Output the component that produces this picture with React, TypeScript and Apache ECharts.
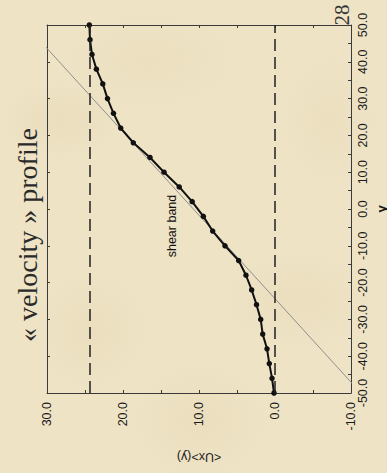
import React, { useEffect, useRef } from "react";
import * as echarts from "echarts";

// profile sample positions (y) and mean velocity <Ux>(y)
const yPositions = [50, 46, 42, 38, 34, 30, 26, 22, 18, 14, 10, 6, 2, -2, -6, -10, -14, -18, -22, -26, -30, -34, -38, -42, -46, -50];
const uxValues = [24.43, 24.34, 24.08, 23.5, 22.66, 22.04, 21.25, 20.3, 18.64, 16.45, 14.6, 12.6, 10.9, 9.43, 8.2, 6.58, 4.78, 3.82, 3.07, 2.43, 1.88, 1.62, 1.05, 0.75, 0.39, 0.13];
// linear reference profile
const refLineY = [-50, 50];
const refLineUx = [-11.3, 32.8];
// wall velocities (dashed)
const dashedUx = [0, 24.4];

const uxRange = [-10, 30];
const yRange = [-50, 50];

export default function App() {
  const ref = useRef<HTMLDivElement>(null);
  useEffect(() => {
    const chart = echarts.init(ref.current!, null, { renderer: "svg" });
    const labelFont = { fontFamily: "Arial, 'Liberation Sans', sans-serif", fontSize: 12.5, color: "#1a1a1a" };
    const axisLine = { show: true, onZero: false, lineStyle: { color: "#3a3a3a", width: 1 } };
    const tick = { show: true, inside: true, length: 3, lineStyle: { color: "#3a3a3a" } };
    const minor = { show: true, splitNumber: 2, length: 3, lineStyle: { color: "#3a3a3a" } };
    chart.setOption({
      animation: false,
      backgroundColor: "transparent",
      grid: { left: 47, right: 36, top: 25, bottom: 80 },
      xAxis: [
        {
          type: "value", min: uxRange[0], max: uxRange[1], interval: 10, inverse: true, position: "bottom",
          axisLine, splitLine: { show: false }, axisTick: tick, minorTick: minor,
          axisLabel: { ...labelFont, rotate: 90, margin: 9, formatter: (v: number) => v.toFixed(1) },
        },
        {
          type: "value", min: uxRange[0], max: uxRange[1], interval: 10, inverse: true, position: "top",
          axisLine, splitLine: { show: false }, axisTick: tick, minorTick: minor,
          axisLabel: { show: false },
        },
      ],
      yAxis: [
        {
          type: "value", min: yRange[0], max: yRange[1], interval: 10, position: "right",
          axisLine, splitLine: { show: false }, axisTick: tick, minorTick: minor,
          axisLabel: { ...labelFont, rotate: 90, margin: 5, formatter: (v: number) => v.toFixed(1) },
        },
        {
          type: "value", min: yRange[0], max: yRange[1], interval: 10, position: "left",
          axisLine, splitLine: { show: false }, axisTick: tick,
          axisLabel: { show: false },
        },
      ],
      series: [
        {
          type: "line", xAxisIndex: 0, yAxisIndex: 0, clip: true, symbol: "none",
          lineStyle: { color: "#8f8f8f", width: 1 },
          data: refLineY.map((y, i) => [refLineUx[i], y]),
          z: 2,
        },
        {
          type: "line", xAxisIndex: 0, yAxisIndex: 0, symbol: "circle", symbolSize: 5.5,
          lineStyle: { color: "#111", width: 2 },
          itemStyle: { color: "#111" },
          data: yPositions.map((y, i) => [uxValues[i], y]),
          markLine: {
            silent: true, symbol: "none", label: { show: false },
            lineStyle: { color: "#222", width: 1.5, type: [12, 6] },
            data: dashedUx.map((v) => ({ xAxis: v })),
          },
          z: 3,
        },
      ],
      graphic: [
        { type: "text", x: 27, y: 235, rotation: Math.PI / 2, style: { text: "« velocity » profile", fontFamily: "'Liberation Serif', 'Times New Roman', serif", fontSize: 28, fill: "#2a2a2a", align: "center", verticalAlign: "middle" } },
        { type: "text", x: 342, y: 15, rotation: Math.PI / 2, style: { text: "28", fontFamily: "'Liberation Serif', 'Times New Roman', serif", fontSize: 21, fill: "#333", align: "center", verticalAlign: "middle" } },
        { type: "text", x: 172, y: 226, rotation: Math.PI / 2, style: { text: "shear band", fontFamily: "Arial, 'Liberation Sans', sans-serif", fontSize: 12.5, fill: "#111", align: "center", verticalAlign: "middle" } },
        { type: "text", x: 199, y: 457, rotation: Math.PI, style: { text: "<Ux>(y)", fontFamily: "Arial, 'Liberation Sans', sans-serif", fontSize: 12.5, fill: "#1a1a1a", align: "center", verticalAlign: "middle" } },
        { type: "text", x: 381, y: 209, rotation: Math.PI / 2, style: { text: "y", fontFamily: "Arial, 'Liberation Sans', sans-serif", fontSize: 13, fontWeight: "bold", fill: "#1a1a1a", align: "center", verticalAlign: "middle" } },
      ],
    });
    return () => chart.dispose();
  }, []);

  const bg =
    "radial-gradient(ellipse 60px 40px at 60px 120px, rgba(214,196,152,0.18), transparent)," +
    "radial-gradient(ellipse 80px 50px at 300px 300px, rgba(214,196,152,0.15), transparent)," +
    "radial-gradient(ellipse 70px 60px at 200px 420px, rgba(214,196,152,0.15), transparent)," +
    "radial-gradient(ellipse 90px 50px at 150px 60px, rgba(214,196,152,0.12), transparent)," +
    "radial-gradient(ellipse 50px 70px at 330px 120px, rgba(214,196,152,0.12), transparent)," +
    "radial-gradient(ellipse 60px 60px at 90px 330px, rgba(214,196,152,0.15), transparent)," +
    "#eee3c5";

  return (
    <div style={{ position: "absolute", left: 0, top: 0, width: 387, height: 473, background: bg }}>
      <div ref={ref} style={{ width: 387, height: 473 }} />
    </div>
  );
}
